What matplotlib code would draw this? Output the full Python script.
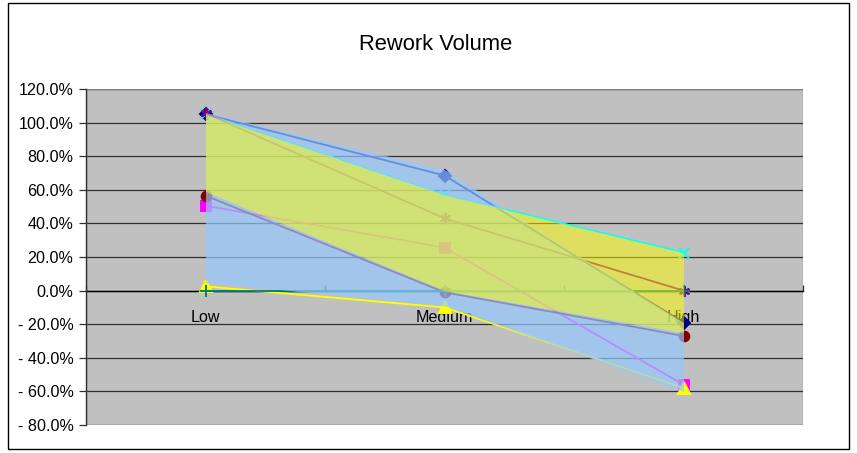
import matplotlib
matplotlib.use("Agg")
import matplotlib.pyplot as plt
from matplotlib.patches import Rectangle

plt.rcParams['font.family'] = ['Liberation Sans', 'DejaVu Sans']

categories = ['Low', 'Medium', 'High']

# line series (percent)
s_diamond = [105, 68.5, -19]
s_square = [50.5, 25.6, -56]
s_triangle = [2.5, -10, -58]
s_xmark = [105, 57, 22.6]
s_star = [105.5, 43, 0]
s_circle = [56.5, -1, -27]
s_plus = [0, 0, 0]

# translucent bands
blue_upper = [106, 72, -19]
blue_lower = [5, -9, -60]
yellow_upper = [105, 57, 22.6]
yellow_lower = [59, 0, -25]

yticks = list(range(-80, 121, 20))

W, H = 857, 453
fig = plt.figure(figsize=(W / 100, H / 100), dpi=100)
fig.patch.set_facecolor('white')

L, R, T, B = 86, 803, 89, 425
ax = fig.add_axes([L / W, 1 - B / H, (R - L) / W, (B - T) / H])
ax.set_facecolor('#C0C0C0')
ax.set_xlim(-0.5, 2.5)
ax.set_ylim(-80, 120)
ax.set_axisbelow(True)

x = list(range(len(categories)))

lw = 1.3
series = [
    (s_diamond, '#000080', 'D', 6),
    (s_square, '#FF00FF', 's', 6.5),
    (s_triangle, '#FFFF00', '^', 8),
    (s_xmark, '#00FFFF', 'x', 7),
    (s_star, '#800080', (6, 2, 0), 8),
    (s_circle, '#800000', 'o', 7),
    (s_plus, '#008080', '+', 8),
]
for vals, col, mk, ms in series:
    ax.plot(x, vals, color=col, lw=lw, marker=mk, markersize=ms,
            markerfacecolor=col, markeredgecolor=col, markeredgewidth=1.4,
            zorder=1, clip_on=False)

ax.fill_between(x, blue_lower, blue_upper, color='#96C8FF', alpha=0.7,
                lw=0, zorder=2)
ax.fill_between(x, yellow_lower, yellow_upper, color='#FFFF00', alpha=0.5,
                lw=0, zorder=3)

# grid
ax.set_yticks(yticks)
ax.set_yticklabels([(f"{v:.1f}%" if v >= 0 else f"- {abs(v):.1f}%") for v in yticks],
                   fontsize=11.6)
ax.yaxis.grid(True, color='#303030', lw=0.9, zorder=0.5)
ax.tick_params(axis='y', direction='out', length=5, width=0.9, color='#303030', pad=4)

# category axis at zero
ax.spines['bottom'].set_position(('data', 0))
ax.spines['bottom'].set_zorder(0.6)
ax.spines['bottom'].set_color('black')
ax.spines['bottom'].set_linewidth(1.0)
ax.spines['left'].set_color('#303030')
ax.spines['left'].set_linewidth(1.0)
ax.spines['top'].set_visible(False)
ax.spines['right'].set_visible(False)
ax.set_xticks([-0.5, 0.5, 1.5, 2.5])
ax.set_xticklabels([])
ax.tick_params(axis='x', direction='in', length=4, width=0.9, color='#303030')
ax.xaxis.set_zorder(0.6)

for i, c in enumerate(categories):
    ax.annotate(c, (i, 0), xytext=(0, -14), textcoords='offset points',
                ha='center', va='top', fontsize=11.6, color='black', zorder=0.7,
                annotation_clip=False)

# plot-area border
ax.add_patch(Rectangle((0, 0), 1, 1, transform=ax.transAxes, fill=False,
                       edgecolor='#808080', lw=0.9, zorder=0.55))

fig.text(436 / W, 1 - 44 / H, 'Rework Volume', ha='center', va='center',
         fontsize=15.8, color='black')

# chart border
fig.patches.append(Rectangle((8 / W, 1 - 449 / H), (849 - 8) / W, (449 - 3) / H,
                             transform=fig.transFigure, fill=False,
                             edgecolor='black', lw=1.0))

fig.savefig('out.png', dpi=100, facecolor='white')
